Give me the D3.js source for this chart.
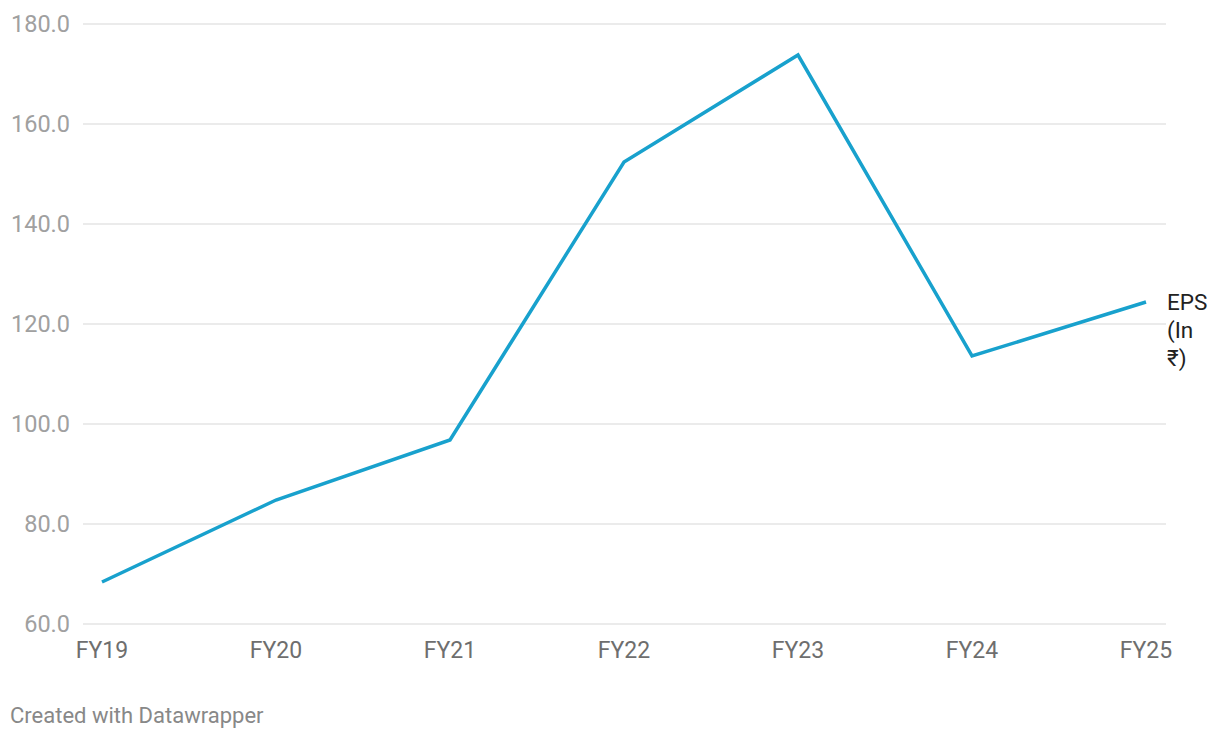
<!DOCTYPE html>
<html><head><meta charset="utf-8">
<script src="https://cdn.jsdelivr.net/npm/d3@7"></script>
<style>body{margin:0;background:#fff;font-family:Roboto,sans-serif;}</style>
</head><body>
<svg id="chart" width="1220" height="740"></svg>
<script>
const categories = ["FY19","FY20","FY21","FY22","FY23","FY24","FY25"];
const epsValues = [68.4, 84.8, 96.8, 152.4, 173.8, 113.6, 124.4];
const yTicks = [60, 80, 100, 120, 140, 160, 180];
const seriesLabel = ["EPS", "(In", "₹)"];

const svg = d3.select("#chart");
const x = d3.scalePoint().domain(categories).range([102, 1146]);
const y = d3.scaleLinear().domain([60, 180]).range([624, 24]);

svg.append("g").selectAll("line").data(yTicks).join("line")
  .attr("x1", 83).attr("x2", 1166)
  .attr("y1", d => y(d)).attr("y2", d => y(d))
  .attr("stroke", "#e4e4e4").attr("stroke-width", 1.5);

svg.append("g").selectAll("text").data(yTicks).join("text")
  .attr("x", 70).attr("y", d => y(d)).attr("dy", "0.35em")
  .attr("text-anchor", "end").attr("font-size", 23.5).attr("fill", "#a0a0a0")
  .text(d => d3.format(".1f")(d));

svg.append("g").selectAll("text").data(categories).join("text")
  .attr("x", d => x(d)).attr("y", 658)
  .attr("text-anchor", "middle").attr("font-size", 23).attr("fill", "#6e6e6e")
  .text(d => d);

const data = categories.map((c, i) => ({c, v: epsValues[i]}));
svg.append("path").datum(data)
  .attr("fill", "none").attr("stroke", "#18a1cd").attr("stroke-width", 3.5)
  .attr("stroke-linejoin", "miter")
  .attr("d", d3.line().x(d => x(d.c)).y(d => y(d.v)));

const last = data[data.length - 1];
svg.append("text").attr("x", 1167).attr("y", y(last.v) + 8)
  .attr("font-size", 22.5).attr("fill", "#222")
  .selectAll("tspan").data(seriesLabel).join("tspan")
  .attr("x", 1167).attr("dy", (d, i) => i === 0 ? 0 : 28).text(d => d);

svg.append("text").attr("x", 10).attr("y", 723)
  .attr("font-size", 22).attr("fill", "#888").text("Created with Datawrapper");
</script>
</body></html>
